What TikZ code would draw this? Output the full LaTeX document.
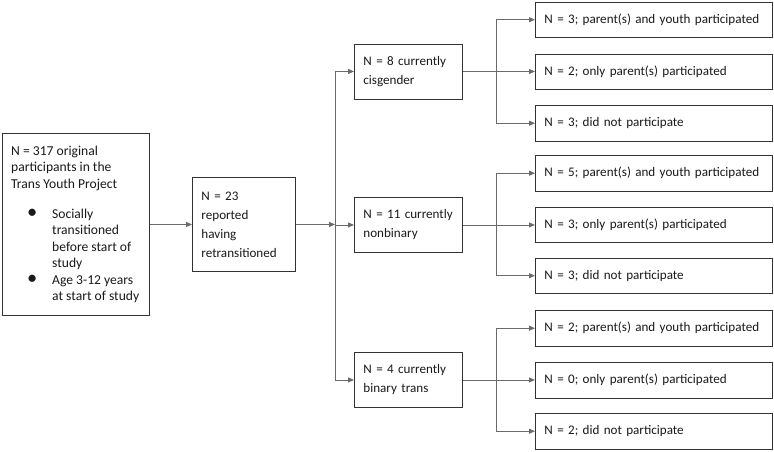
\documentclass[tikz,border=0pt]{standalone}
\usepackage{fontspec}
\setmainfont{Carlito}
\usetikzlibrary{arrows.meta}
\definecolor{linegray}{HTML}{6A6A6A}
\definecolor{boxline}{HTML}{333333}
\definecolor{txt}{HTML}{1A1A1A}
\begin{document}
\begin{tikzpicture}[x=1pt,y=-1pt,
  box/.style={draw=boxline, line width=0.9pt, fill=white, inner xsep=9pt, inner ysep=0pt,
    align=left, anchor=north west, text=txt, font=\fontsize{13.1}{19}\selectfont},
  midbox/.style={box, minimum width=108pt, minimum height=55pt, text width=90pt},
  rbox/.style={box, minimum width=237pt, minimum height=35.5pt, text width=219pt},
  conn/.style={draw=linegray, line width=0.9pt},
  arr/.style={conn, -{Triangle[length=6pt,width=5pt]}}]
\useasboundingbox (0,0) rectangle (774,451);

% left box
\node[box, minimum width=147pt, minimum height=182pt] (A) at (2,133) {};
\node[anchor=west, inner sep=0pt, align=left, text=txt,
      font=\fontsize{13.6}{16.5}\selectfont] (At) at (11,224.5)
 {N = 317 original\\participants in the\\Trans Youth Project\\[13.5pt]
  \makebox[41pt][l]{\hspace*{16pt}\scalebox{1.5}{\textbullet}}Socially\\
  \hspace*{41pt}transitioned\\
  \hspace*{41pt}before start of\\
  \hspace*{41pt}study\\
  \makebox[41pt][l]{\hspace*{16pt}\scalebox{1.5}{\textbullet}}Age 3-12 years\\
  \hspace*{41pt}at start of study};

% second box
\node[box, minimum width=103pt, minimum height=94pt, text width=85pt] (B) at (192,177)
 {\mbox{N = 23}\\\mbox{reported}\\\mbox{having}\\\mbox{retransitioned}};

% middle column
\node[midbox] (C) at (354,43.5) {\mbox{N = 8 currently}\\\mbox{cisgender}};
\node[midbox] (D) at (354,197) {\mbox{N = 11 currently}\\\mbox{nonbinary}};
\node[midbox] (E) at (354,352) {\mbox{N = 4 currently}\\\mbox{binary trans}};

% right column
\node[rbox] (R1) at (535,1.5) {\mbox{N = 3; parent(s) and youth participated}};
\node[rbox] (R2) at (535,53.5) {\mbox{N = 2; only parent(s) participated}};
\node[rbox] (R3) at (535,105) {\mbox{N = 3; did not participate}};
\node[rbox] (R4) at (535,155) {\mbox{N = 5; parent(s) and youth participated}};
\node[rbox] (R5) at (535,206.5) {\mbox{N = 3; only parent(s) participated}};
\node[rbox] (R6) at (535,257.5) {\mbox{N = 3; did not participate}};
\node[rbox] (R7) at (535,310) {\mbox{N = 2; parent(s) and youth participated}};
\node[rbox] (R8) at (535,362) {\mbox{N = 0; only parent(s) participated}};
\node[rbox] (R9) at (535,413) {\mbox{N = 2; did not participate}};

% connectors
\coordinate (tx) at (335,0);
\coordinate (bx) at (496,0);
\draw[arr] (A.east) -- (B.west);
\draw[conn] (tx |- C.west) -- (tx |- E.west);
\draw[arr] (B.east) -- (tx |- B.east);
\draw[arr] (tx |- C.west) -- (C.west);
\draw[arr] (tx |- D.west) -- (D.west);
\draw[arr] (tx |- E.west) -- (E.west);

\draw[arr] (C.east) -- (C.east -| R2.west);
\draw[conn] (bx |- R1.west) -- (bx |- R3.west);
\draw[arr] (bx |- R1.west) -- (R1.west);
\draw[arr] (bx |- R3.west) -- (R3.west);

\draw[arr] (D.east) -- (D.east -| R5.west);
\draw[conn] (bx |- R4.west) -- (bx |- R6.west);
\draw[arr] (bx |- R4.west) -- (R4.west);
\draw[arr] (bx |- R6.west) -- (R6.west);

\draw[arr] (E.east) -- (E.east -| R8.west);
\draw[conn] (bx |- R7.west) -- (bx |- R9.west);
\draw[arr] (bx |- R7.west) -- (R7.west);
\draw[arr] (bx |- R9.west) -- (R9.west);
\end{tikzpicture}
\end{document}
